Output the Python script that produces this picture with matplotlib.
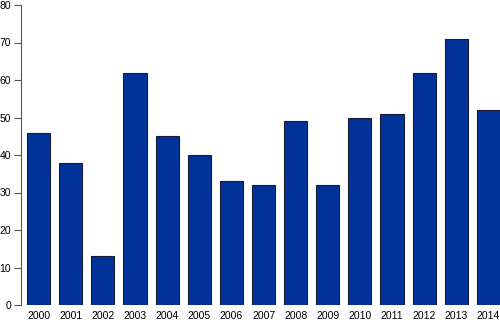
import matplotlib
matplotlib.use("Agg")
import matplotlib.pyplot as plt

years = ["2000", "2001", "2002", "2003", "2004", "2005", "2006", "2007",
         "2008", "2009", "2010", "2011", "2012", "2013", "2014"]
values = [46, 38, 13, 62, 45, 40, 33, 32, 49, 32, 50, 51, 62, 71, 52]
yticks = [0, 10, 20, 30, 40, 50, 60, 70, 80]

plt.rcParams['font.family'] = ['Liberation Sans', 'DejaVu Sans']
fig = plt.figure(figsize=(5.0, 3.22), dpi=100)
ax = fig.add_axes([21/500, 17/322, 479/500, 300/322])
x = list(range(len(years)))
ax.bar(x, values, width=0.72, color='#003399', edgecolor='#1a1a33', linewidth=0.8)
ax.set_xlim(-0.55, 14.36)
ax.set_ylim(0, 80)
ax.set_yticks(yticks)
ax.set_xticks(x)
ax.set_xticklabels(years)
for s in ['top', 'right', 'bottom']:
    ax.spines[s].set_visible(False)
ax.spines['left'].set_color('#555555')
ax.tick_params(axis='y', length=5, color='#555555', labelsize=7.5, pad=2)
ax.tick_params(axis='x', length=0, labelsize=7.5, pad=4)
fig.savefig("out.png", dpi=100)
